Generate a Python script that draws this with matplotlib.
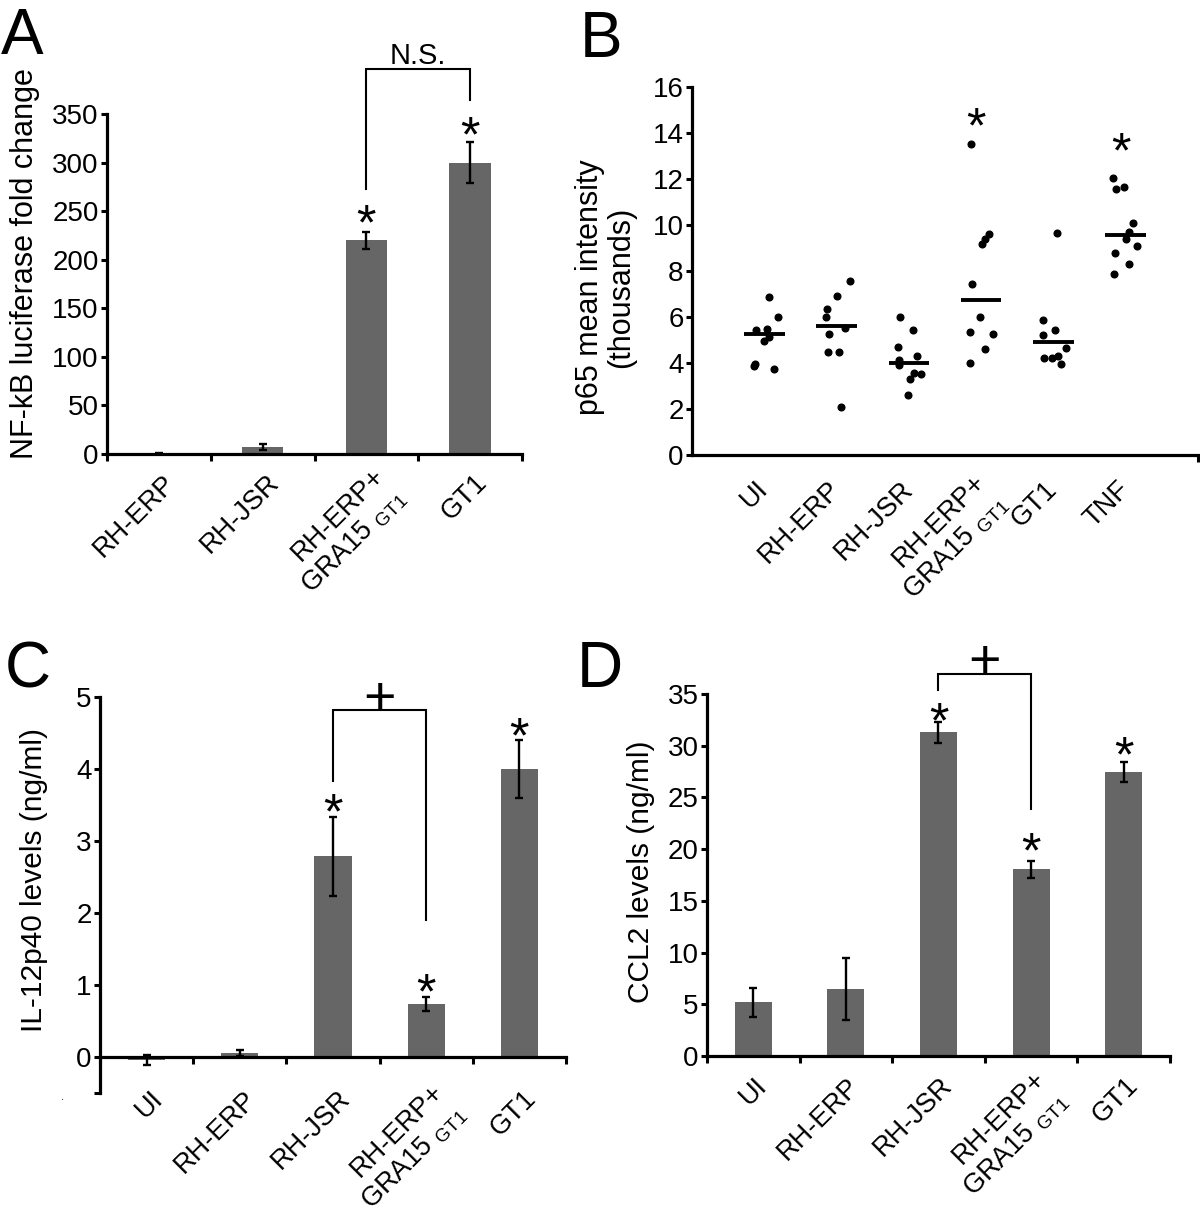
import matplotlib
matplotlib.use("Agg")
import matplotlib.pyplot as plt
from matplotlib.transforms import ScaledTranslation
import numpy as np

plt.rcParams['font.family'] = ['Liberation Sans', 'DejaVu Sans']
plt.rcParams['mathtext.fontset'] = 'custom'
plt.rcParams['mathtext.rm'] = 'Liberation Sans'

GRA = "RH-ERP+\nGRA15 $_{\\mathregular{GT1}}$"

# panel A: NF-kB luciferase
a_labels = ["RH-ERP", "RH-JSR", GRA, "GT1"]
a_vals = [1, 7, 220, 300]
a_errs = [0.5, 3, 8.5, 21]

# panel B: p65 mean intensity (thousands)
b_labels = ["UI", "RH-ERP", "RH-JSR", GRA, "GT1", "TNF"]
b_points = [
    [6.88, 6.0, 5.45, 5.47, 5.13, 4.98, 3.97, 3.9, 3.74],
    [7.59, 6.93, 6.38, 6.0, 5.55, 5.29, 4.48, 4.48, 2.11],
    [6.01, 5.43, 4.69, 4.32, 4.14, 3.91, 3.55, 3.59, 3.3, 2.62],
    [13.52, 9.62, 9.39, 9.17, 7.46, 6.03, 5.37, 5.26, 4.64, 4.0],
    [9.65, 5.88, 5.45, 5.23, 4.68, 4.22, 4.22, 4.32, 3.97],
    [12.04, 11.57, 11.65, 10.11, 9.72, 9.42, 9.11, 8.81, 8.3, 7.9],
]
# horizontal scatter of the dots
b_jitter = [
    [0.07, 0.19, -0.11, 0.04, 0.07, 0.0, -0.13, -0.14, 0.13],
    [0.19, 0.0, -0.13, -0.14, 0.12, -0.11, -0.12, 0.04, 0.06],
    [-0.12, 0.06, -0.15, 0.11, -0.14, -0.14, 0.17, 0.07, 0.02, -0.01],
    [-0.14, 0.11, 0.05, 0.01, -0.13, -0.02, -0.16, 0.17, 0.06, -0.16],
    [0.05, -0.15, 0.02, -0.15, 0.17, -0.13, -0.02, 0.06, 0.11],
    [-0.17, -0.14, -0.03, 0.10, 0.05, 0.01, 0.16, -0.15, 0.04, -0.16],
]
b_means = [5.26, 5.61, 4.0, 6.77, 4.91, 9.58]

# panel C: IL-12p40 (ng/ml)
c_labels = ["UI", "RH-ERP", "RH-JSR", GRA, "GT1"]
c_vals = [-0.04, 0.06, 2.79, 0.74, 4.0]
c_errs = [0.07, 0.04, 0.55, 0.1, 0.4]

# panel D: CCL2 (ng/ml)
d_labels = ["UI", "RH-ERP", "RH-JSR", GRA, "GT1"]
d_vals = [5.2, 6.45, 31.3, 18.05, 27.45]
d_errs = [1.4, 3.0, 1.0, 0.8, 0.95]

W, H = 1200, 1228
fig = plt.figure(figsize=(W / 100, H / 100), dpi=100)


def axes_px(l, t, r, b):
    return fig.add_axes([l / W, 1 - b / H, (r - l) / W, (b - t) / H])


def style(ax):
    for s in ["top", "right"]:
        ax.spines[s].set_visible(False)
    for s in ["left", "bottom"]:
        ax.spines[s].set_linewidth(2.3)
    ax.tick_params(axis="y", which="major", direction="out", length=4, width=2.2,
                   labelsize=20, pad=2)
    ax.tick_params(axis="x", which="minor", direction="out", length=5, width=2.2)


def xlabels(ax, labels, pos, dx, dy):
    # dx, dy: label offset from tick / axis line, in pixels
    ax.set_xticks(pos)
    ax.set_xticklabels(labels, rotation=45, ha="right", va="center",
                       rotation_mode="anchor", fontsize=19.5)
    ax.tick_params(axis="x", which="major", length=0, pad=dy * 0.72)
    for lab in ax.get_xticklabels():
        ex, ey = (12, 4) if "\n" in lab.get_text() else (0, 0)
        lab.set_transform(lab.get_transform() +
                          ScaledTranslation((dx + ex) / 100, -ey / 100, fig.dpi_scale_trans))


def bars(ax, vals, errs):
    x = np.arange(len(vals))
    ax.bar(x, vals, width=0.4, color="#666666", zorder=2)
    ax.errorbar(x, vals, yerr=errs, fmt="none", ecolor="black", elinewidth=1.7,
                capsize=3.2, capthick=1.7, zorder=3)
    ax.set_xlim(-0.5, len(vals) - 0.5)
    ax.set_xticks(np.arange(len(vals) + 1) - 0.5, minor=True)
    return x


def star(ax, x, y, size=36):
    ax.annotate("*", (x, y), xytext=(0, -0.575 * size), textcoords="offset points",
                ha="center", va="baseline", fontsize=size, annotation_clip=False)


def bracket(ax, x1, x2, top, y1, y2, text, ty, size, glyph_off):
    ax.plot([x1, x1, x2, x2], [y1, top, top, y2], color="black", lw=1.5,
            clip_on=False, solid_joinstyle="miter")
    ax.annotate(text, ((x1 + x2) / 2, ty), xytext=(0, -glyph_off * size),
                textcoords="offset points", ha="center", va="baseline",
                fontsize=size, annotation_clip=False)


# ---- A
ax = axes_px(107, 114, 522, 454)
style(ax)
x = bars(ax, a_vals, a_errs)
ax.set_ylim(0, 350)
ax.set_yticks(range(0, 351, 50))
xlabels(ax, a_labels, x, 13, 25)
star(ax, 2, 251)
star(ax, 3, 341)
bracket(ax, 2, 3, 396, 273, 364, "N.S.", 412, 21, 0.36)
fig.text(25 / W, 1 - 264 / H, "NF-kB luciferase fold change", rotation=90,
         ha="center", va="center", fontsize=22)

# ---- B
ax = axes_px(692, 87.3, 1198, 455.3)
style(ax)
for i, (pts, jit) in enumerate(zip(b_points, b_jitter)):
    ax.plot(np.array(jit) + i + 1, pts, "o", color="black", ms=4.8, clip_on=False)
    ax.hlines(b_means[i], i + 1 - 0.28, i + 1 + 0.28, color="black", lw=2.8)
ax.set_xlim(0, 7)
ax.set_ylim(0, 16)
ax.set_yticks(range(0, 17, 2))
ax.set_xticks([1, 2, 3, 4, 5, 6, 7], minor=True)
xlabels(ax, b_labels, [1, 2, 3, 4, 5, 6], 0, 30)
star(ax, 3.93, 14.87)
star(ax, 5.93, 13.78)
fig.text(606 / W, 1 - 287 / H, "p65 mean intensity\n(thousands)", rotation=90,
         ha="center", va="center", fontsize=22, linespacing=1.05)

# ---- C
ax = axes_px(100, 697, 566, 1093)
style(ax)
x = bars(ax, c_vals, c_errs)
ax.set_ylim(-0.5, 5)
ax.set_yticks([-0.5, 0, 1, 2, 3, 4, 5])
ax.set_yticklabels(["", "0", "1", "2", "3", "4", "5"])
ax.spines["bottom"].set_position(("data", 0))
xlabels(ax, c_labels, x, 13, 38)
star(ax, 2, 3.57)
star(ax, 3, 1.08)
star(ax, 4, 4.63)
bracket(ax, 2, 3, 4.82, 3.83, 1.9, "+", 5.02, 40, 0.353)
fig.text(34 / W, 1 - 880 / H, "IL-12p40 levels (ng/ml)", rotation=90,
         ha="center", va="center", fontsize=21.5)
fig.text(62 / W, 1 - 1100 / H, ".", ha="center", va="baseline", fontsize=8)

# ---- D
ax = axes_px(707, 694, 1170, 1056)
style(ax)
x = bars(ax, d_vals, d_errs)
ax.set_ylim(0, 35)
ax.set_yticks(range(0, 36, 5))
xlabels(ax, d_labels, x, 10, 26)
star(ax, 2, 33.6)
star(ax, 3, 21.06)
star(ax, 4, 30.3)
bracket(ax, 2, 3, 36.9, 35.4, 23.9, "+", 38.4, 40, 0.353)
fig.text(641 / W, 1 - 872 / H, "CCL2 levels (ng/ml)", rotation=90,
         ha="center", va="center", fontsize=21.5)

# panel letters
for letter, px, py in [("A", 1, 54), ("B", 580, 57), ("C", 5, 687), ("D", 577, 687)]:
    fig.text(px / W, 1 - py / H, letter, ha="left", va="baseline", fontsize=46)

fig.savefig("out.png", dpi=100, facecolor="white")
